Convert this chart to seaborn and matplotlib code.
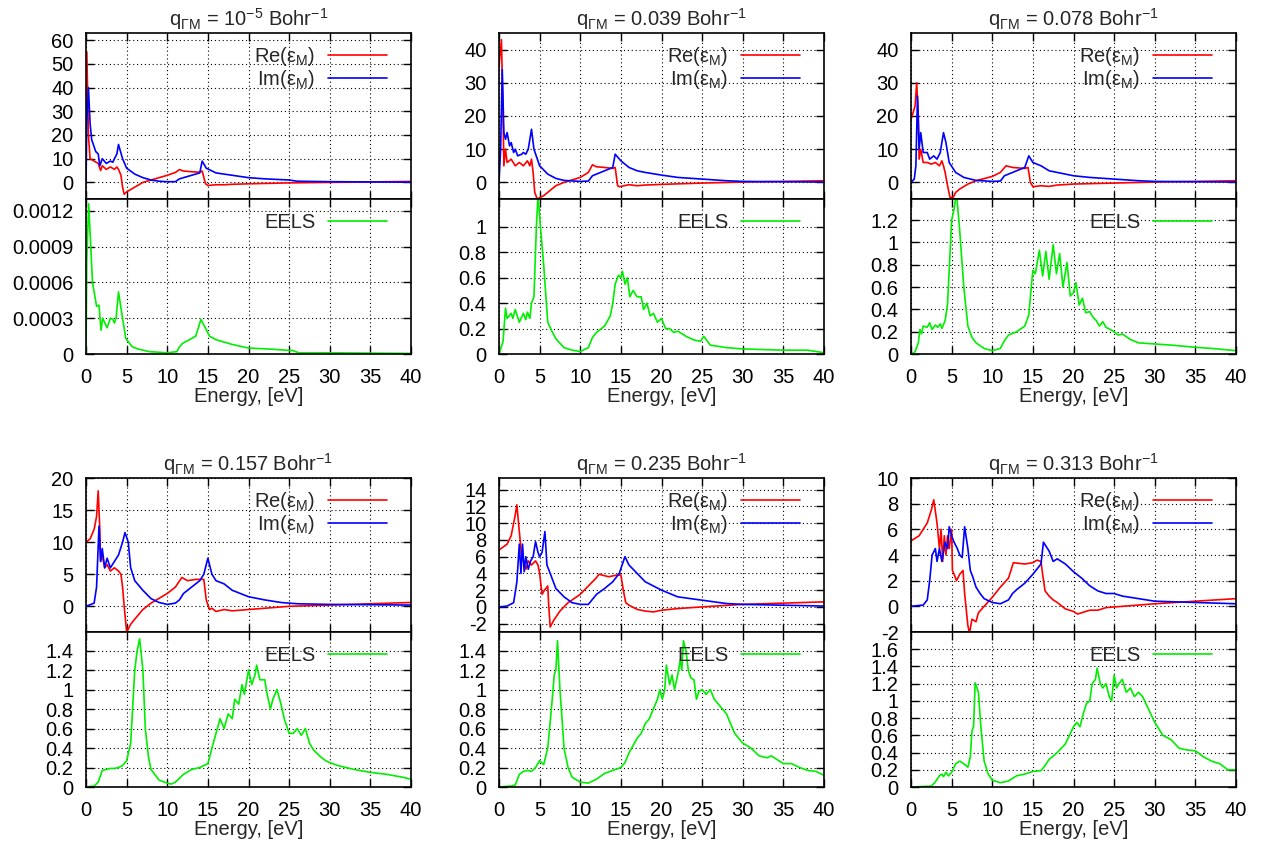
import matplotlib
matplotlib.use("Agg")
import matplotlib.pyplot as plt
import seaborn as sns
from matplotlib.ticker import FuncFormatter, FixedLocator

sns.set_style("ticks")
plt.rcParams['font.family'] = ['Liberation Sans', 'DejaVu Sans']
plt.rcParams['mathtext.fontset'] = 'custom'
plt.rcParams['mathtext.rm'] = 'Liberation Sans'
plt.rcParams['mathtext.it'] = 'Liberation Sans'

# ---------------- data ----------------
titles = ["q$_\\mathregular{ΓM}$ = 10$^\\mathregular{-5}$ Bohr$^\\mathregular{-1}$",
          "q$_\\mathregular{ΓM}$ = 0.039 Bohr$^\\mathregular{-1}$",
          "q$_\\mathregular{ΓM}$ = 0.078 Bohr$^\\mathregular{-1}$",
          "q$_\\mathregular{ΓM}$ = 0.157 Bohr$^\\mathregular{-1}$",
          "q$_\\mathregular{ΓM}$ = 0.235 Bohr$^\\mathregular{-1}$",
          "q$_\\mathregular{ΓM}$ = 0.313 Bohr$^\\mathregular{-1}$"]

# q = 1e-5
p1_re_E = [0.02, 0.1, 0.3, 0.5, 1.0, 1.5, 1.8, 2.0, 2.5, 3.0, 3.5, 3.8, 4.0, 4.3, 4.5, 4.7, 5.0, 6.0, 7.0, 8.0, 10.0, 11.0, 11.5, 12.0, 13.0, 14.0, 14.3, 14.7, 15.0, 16.0, 17.0, 18.0, 20.0, 25.0, 30.0, 40.0]
p1_re   = [30, 55, 20, 10, 9, 8, 5, 7, 5.5, 6.5, 5.5, 6.5, 5.5, 3, -2, -5, -4, -2, 0, 1, 3, 4.2, 5.4, 4.8, 4.5, 4.3, 4.8, -0.5, -1.3, -1, -1, -0.8, -0.6, -0.2, 0, 0.4]
p1_im_E = [0.0, 0.1, 0.3, 0.5, 0.7, 1.0, 1.2, 1.5, 1.7, 2.0, 2.5, 3.0, 3.3, 3.5, 3.8, 4.0, 4.5, 5.0, 6.0, 7.0, 8.0, 9.0, 10.0, 11.0, 11.5, 12.5, 14.0, 14.3, 14.8, 16.0, 18.0, 20.0, 22.0, 25.0, 26.0, 30.0, 40.0]
p1_im   = [0, 25, 40, 25, 18, 15, 13, 12, 7, 10, 8, 9, 8.5, 10, 12, 16, 10, 6, 3.5, 2, 1, 0.5, 0.3, 0.3, 1.5, 2.5, 4, 9, 6, 4, 3, 2, 1.5, 1, 0.5, 0.3, 0.1]
p1_el_E = [0.0, 0.1, 0.33, 0.8, 1.3, 1.6, 1.85, 2.05, 2.6, 3.0, 3.3, 3.5, 3.7, 4.0, 4.5, 4.9, 5.7, 6.5, 7.8, 10.0, 11.2, 11.5, 11.9, 13.0, 13.5, 14.15, 15.2, 16.0, 18.0, 20.0, 23.0, 25.0, 25.4, 26.2, 30.0, 40.0]
p1_el   = [0, 0.0008, 0.00126, 0.0006, 0.0004, 0.00041, 0.0002, 0.0003, 0.00022, 0.0003, 0.00029, 0.00026, 0.0003, 0.00052, 0.0003, 0.00013, 0.00006, 0.00004, 0.00002, 0.00001, 0.00002, 0.00006, 0.00009, 0.00013, 0.00015, 0.00029, 0.00015, 0.00012, 0.00008, 0.00005, 0.00004, 0.00003, 0.00003, 0.00001, 0.00001, 0.000005]

# q = 0.039
p2_re_E = [0.0, 0.3, 0.5, 0.6, 0.8, 1.0, 1.5, 2.0, 2.5, 3.0, 3.5, 3.8, 4.0, 4.2, 4.4, 4.7, 5.5, 6.0, 7.0, 8.0, 10.0, 11.0, 11.5, 12.0, 13.0, 14.0, 14.3, 14.6, 14.8, 16.0, 17.0, 18.0, 20.0, 25.0, 30.0, 40.0]
p2_re   = [35, 43, 20, 5, 10, 6, 7, 5, 6, 5, 6.5, 5, 7, 3, -3, -5, -4, -3, -1, 0, 1.5, 3, 5.3, 4.7, 4.5, 4.2, 4.5, -1, -1.3, -0.7, -1, -0.8, -0.6, -0.2, 0.1, 0.5]
p2_im_E = [0.0, 0.2, 0.4, 0.6, 0.8, 1.0, 1.3, 1.5, 1.8, 2.0, 2.3, 2.8, 3.0, 3.3, 3.6, 4.0, 4.3, 5.0, 6.0, 7.0, 8.0, 10.0, 11.0, 11.5, 12.5, 14.0, 14.3, 15.0, 16.0, 17.0, 18.0, 20.0, 22.0, 25.0, 28.0, 30.0, 40.0]
p2_im   = [0, 10, 34, 15, 13, 15, 11, 12, 9, 10, 8, 8.5, 9, 8.5, 10, 16, 10, 5, 2.5, 1.2, 0.6, 0.3, 0.4, 2, 3, 4.5, 8.5, 6.5, 4.5, 3.5, 3, 2.2, 1.5, 1, 0.5, 0.3, 0.1]
p2_el_E = [0.0, 0.5, 0.8, 1.0, 1.5, 1.7, 2.0, 2.5, 3.0, 3.3, 3.5, 3.8, 4.0, 4.3, 4.6, 4.8, 5.1, 5.5, 6.0, 6.5, 7.0, 8.0, 9.0, 10.0, 11.0, 11.5, 12.0, 13.0, 13.7, 14.0, 14.3, 14.7, 15.0, 15.2, 15.5, 15.8, 16.1, 16.5, 17.0, 17.5, 17.8, 18.2, 18.6, 19.0, 19.5, 20.0, 20.5, 21.0, 21.5, 22.0, 23.0, 24.0, 24.8, 25.2, 26.0, 28.0, 30.0, 35.0, 38.0, 40.0]
p2_el   = [0, 0.1, 0.36, 0.28, 0.32, 0.28, 0.35, 0.25, 0.32, 0.27, 0.33, 0.28, 0.4, 0.45, 1.0, 1.25, 1.0, 0.7, 0.25, 0.18, 0.12, 0.05, 0.03, 0.02, 0.05, 0.13, 0.17, 0.22, 0.3, 0.4, 0.55, 0.62, 0.6, 0.65, 0.55, 0.6, 0.45, 0.5, 0.45, 0.45, 0.35, 0.4, 0.3, 0.32, 0.25, 0.28, 0.2, 0.2, 0.17, 0.18, 0.14, 0.11, 0.1, 0.14, 0.07, 0.05, 0.04, 0.03, 0.03, 0.01]

# q = 0.078
p3_re_E = [0.0, 0.5, 0.7, 0.9, 1.0, 1.2, 1.5, 2.0, 2.5, 3.0, 3.5, 3.8, 4.0, 4.2, 4.5, 4.8, 5.2, 5.5, 6.0, 7.0, 8.0, 10.0, 11.0, 11.7, 12.5, 14.0, 14.4, 14.7, 15.0, 16.0, 17.0, 18.0, 20.0, 25.0, 30.0, 40.0]
p3_re   = [19, 23, 30, 20, 7, 10, 6, 6, 5.5, 6, 5, 6.5, 5, 3, -1, -4.5, -4.5, -3, -2, -0.5, 0.5, 1.8, 3, 5, 4.5, 4.2, 4.5, 0, -1.3, -1, -1.2, -0.8, -0.5, -0.2, 0.1, 0.5]
p3_im_E = [0.0, 0.4, 0.6, 0.8, 1.0, 1.2, 1.5, 2.0, 2.3, 2.8, 3.2, 3.6, 4.0, 4.3, 4.7, 5.5, 6.5, 8.0, 10.0, 11.0, 11.5, 12.5, 14.0, 14.5, 15.0, 16.0, 17.0, 18.0, 20.0, 22.0, 25.0, 28.0, 30.0, 40.0]
p3_im   = [0, 1, 5, 26, 10, 15, 9, 9, 7, 8, 7, 9, 15, 12, 6, 3, 1.5, 0.6, 0.3, 0.4, 2, 3, 4.5, 8, 6, 5, 3.5, 3, 2, 1.5, 1, 0.5, 0.3, 0.1]
p3_el_E = [0.0, 0.5, 0.9, 1.1, 1.3, 1.5, 2.0, 2.3, 2.6, 3.0, 3.3, 3.6, 3.8, 4.2, 4.5, 5.0, 5.3, 5.6, 6.0, 6.5, 7.0, 7.5, 8.0, 9.0, 10.0, 11.0, 11.5, 12.0, 13.0, 14.0, 14.5, 14.8, 15.0, 15.3, 15.8, 16.2, 16.6, 17.0, 17.5, 17.9, 18.3, 18.7, 19.2, 19.6, 20.0, 20.3, 20.7, 21.1, 21.5, 22.0, 22.4, 22.8, 23.2, 23.6, 24.0, 24.5, 25.0, 25.5, 26.0, 27.0, 28.0, 30.0, 32.0, 35.0, 37.0, 40.0]
p3_el   = [0, 0.02, 0.1, 0.22, 0.18, 0.25, 0.24, 0.28, 0.22, 0.26, 0.24, 0.27, 0.23, 0.3, 0.45, 1.2, 1.3, 1.45, 1.1, 0.6, 0.25, 0.15, 0.1, 0.05, 0.03, 0.05, 0.12, 0.17, 0.2, 0.25, 0.35, 0.6, 0.75, 0.72, 0.93, 0.7, 0.92, 0.67, 0.98, 0.72, 0.9, 0.6, 0.82, 0.52, 0.55, 0.64, 0.44, 0.5, 0.37, 0.38, 0.33, 0.3, 0.25, 0.29, 0.24, 0.22, 0.2, 0.17, 0.18, 0.13, 0.1, 0.09, 0.08, 0.06, 0.05, 0.03]

# q = 0.157
p4_re_E = [0.0, 0.5, 1.0, 1.3, 1.5, 1.7, 1.8, 2.0, 2.3, 2.6, 3.0, 3.5, 4.0, 4.3, 4.5, 4.7, 5.0, 5.5, 6.0, 7.0, 8.0, 10.0, 11.0, 11.8, 12.5, 13.5, 14.5, 14.8, 15.2, 15.5, 16.0, 17.0, 18.0, 20.0, 22.0, 25.0, 30.0, 40.0]
p4_re   = [10, 10.5, 12, 14, 18, 12, 7, 8, 6, 6.5, 5.5, 6, 5.5, 5, 3, 0, -4, -2.8, -2, -0.5, 0.5, 2, 3, 4.5, 4, 4.2, 4.2, 1, -0.5, -0.3, -0.8, -0.5, -0.7, -0.5, -0.3, 0, 0.2, 0.6]
p4_im_E = [0.0, 1.0, 1.3, 1.6, 1.8, 2.0, 2.3, 2.6, 3.0, 3.5, 4.0, 4.5, 4.8, 5.2, 5.5, 6.0, 7.0, 8.0, 9.0, 10.0, 11.0, 11.5, 12.0, 13.0, 14.0, 14.5, 15.0, 15.5, 16.0, 17.0, 18.0, 20.0, 22.0, 24.0, 26.0, 30.0, 40.0]
p4_im   = [0, 0.5, 3, 12.5, 7, 9, 6, 7.5, 6, 7, 8, 10, 11.5, 10, 6, 4, 2.5, 1.2, 0.6, 0.3, 0.5, 1, 2, 3, 4, 5, 7.5, 5, 4, 3.5, 2.5, 1.5, 1, 0.6, 0.4, 0.3, 0.2]
p4_el_E = [0.0, 1.0, 1.5, 2.0, 2.5, 3.0, 3.5, 4.0, 4.5, 5.0, 5.5, 6.0, 6.3, 6.6, 7.0, 7.3, 7.7, 8.0, 9.0, 10.0, 10.5, 11.0, 12.0, 13.0, 14.0, 15.0, 15.5, 16.0, 16.5, 17.0, 17.5, 18.0, 18.3, 18.8, 19.2, 19.5, 20.0, 20.4, 20.8, 21.0, 21.4, 22.0, 22.3, 22.7, 23.0, 23.5, 24.0, 24.4, 25.0, 25.5, 26.0, 26.5, 27.0, 27.5, 28.0, 29.0, 29.5, 30.0, 31.0, 33.0, 35.0, 37.0, 39.0, 40.0]
p4_el   = [0, 0.01, 0.05, 0.17, 0.18, 0.19, 0.19, 0.2, 0.22, 0.27, 0.45, 1.2, 1.4, 1.52, 1.2, 0.6, 0.3, 0.18, 0.07, 0.04, 0.03, 0.05, 0.13, 0.18, 0.2, 0.24, 0.4, 0.55, 0.7, 0.6, 0.75, 0.7, 0.9, 0.85, 1.05, 0.95, 1.2, 1.05, 1.15, 1.25, 1.1, 1.1, 0.95, 0.8, 0.9, 1.0, 0.85, 0.7, 0.55, 0.55, 0.6, 0.53, 0.6, 0.45, 0.38, 0.3, 0.27, 0.25, 0.22, 0.18, 0.15, 0.13, 0.1, 0.08]

# q = 0.235
p5_re_E = [0.0, 1.0, 1.5, 2.0, 2.2, 2.5, 2.8, 3.0, 3.3, 3.6, 4.0, 4.5, 4.8, 5.0, 5.3, 5.6, 6.0, 6.1, 6.3, 6.8, 7.5, 8.5, 10.0, 11.0, 12.0, 12.3, 13.5, 14.5, 15.0, 15.3, 15.6, 16.0, 17.0, 18.0, 19.0, 20.0, 22.0, 25.0, 30.0, 40.0]
p5_re   = [6.8, 7.5, 8.5, 11, 12.2, 9, 6, 5.5, 4.5, 5.5, 5, 5.5, 5, 4, 1.5, 2, 2.5, 0.5, -2.4, -1.5, -0.5, 0.5, 1.5, 2.5, 3.5, 3.9, 3.6, 3.8, 3.8, 2, 0.5, 0.2, -0.3, -0.5, -0.6, -0.4, -0.2, 0, 0.3, 0.6]
p5_im_E = [0.0, 1.0, 1.8, 2.2, 2.5, 2.7, 2.9, 3.1, 3.3, 3.6, 3.9, 4.2, 4.5, 4.8, 5.0, 5.3, 5.65, 5.9, 6.3, 7.0, 8.0, 9.0, 10.0, 11.0, 12.0, 13.0, 14.0, 14.8, 15.5, 16.0, 17.0, 18.0, 19.0, 20.0, 22.0, 25.0, 28.0, 30.0, 40.0]
p5_im   = [0, 0.1, 0.5, 3, 7.5, 4, 7.5, 4.2, 6, 4.5, 5.5, 6, 7.8, 6.5, 6, 6.5, 9, 5, 4, 2.2, 1.2, 0.5, 0.3, 0.3, 1.5, 2.2, 3, 4, 6, 5, 4, 3, 2.5, 2, 1.2, 0.8, 0.4, 0.3, 0.1]
p5_el_E = [0.0, 1.5, 2.0, 2.5, 3.0, 3.5, 4.0, 4.5, 5.0, 5.5, 6.0, 6.5, 6.8, 7.0, 7.2, 7.5, 7.8, 8.0, 8.5, 9.0, 10.0, 11.0, 12.0, 13.0, 14.0, 15.0, 15.5, 16.0, 17.0, 17.5, 18.0, 18.5, 19.0, 19.5, 19.8, 20.1, 20.4, 20.6, 21.0, 21.3, 21.6, 22.0, 22.3, 22.5, 22.7, 23.0, 23.3, 23.6, 24.0, 24.3, 24.6, 25.0, 25.5, 26.0, 26.5, 27.0, 28.0, 29.0, 30.0, 31.0, 32.0, 33.0, 33.5, 35.0, 36.0, 37.0, 38.0, 39.0, 40.0]
p5_el   = [0, 0.01, 0.02, 0.13, 0.16, 0.17, 0.16, 0.2, 0.27, 0.23, 0.4, 0.85, 1.15, 1.2, 1.5, 1.0, 0.65, 0.4, 0.2, 0.1, 0.05, 0.04, 0.08, 0.14, 0.17, 0.2, 0.25, 0.35, 0.5, 0.55, 0.65, 0.7, 0.8, 0.9, 1.0, 0.9, 1.0, 1.25, 1.05, 1.15, 1.0, 1.15, 1.3, 1.2, 1.5, 1.4, 1.2, 1.12, 1.1, 0.9, 0.98, 1.0, 0.95, 1.0, 0.9, 0.85, 0.75, 0.55, 0.45, 0.4, 0.32, 0.3, 0.32, 0.24, 0.24, 0.2, 0.17, 0.16, 0.12]

# q = 0.313
p6_re_E = [0.0, 1.0, 2.0, 2.5, 2.8, 3.2, 3.5, 3.7, 3.9, 4.1, 4.3, 4.5, 4.7, 5.0, 5.1, 5.3, 5.6, 6.0, 6.4, 6.6, 7.0, 7.2, 7.5, 8.0, 8.3, 9.0, 10.0, 11.0, 12.0, 12.6, 14.0, 15.0, 15.5, 16.0, 16.2, 16.5, 17.0, 17.5, 18.0, 19.0, 20.0, 20.5, 21.0, 22.0, 23.0, 24.0, 26.0, 30.0, 40.0]
p6_re   = [5.1, 5.5, 6.5, 7.5, 8.3, 6.5, 4.5, 6, 3.5, 5.5, 4, 5.5, 4.5, 6, 2.8, 2.5, 2.0, 2.5, 2.8, 1, -1.5, -2.1, -1, -1.2, -0.5, 0, 0.7, 1.5, 2.2, 3.4, 3.3, 3.4, 3.6, 3.5, 2.5, 1.2, 0.8, 0.5, 0.3, -0.2, -0.4, -0.6, -0.5, -0.3, -0.3, -0.1, 0, 0.2, 0.6]
p6_im_E = [0.0, 1.5, 2.0, 2.3, 2.6, 3.0, 3.2, 3.5, 3.8, 4.2, 4.5, 4.7, 5.0, 5.3, 5.7, 6.0, 6.3, 6.6, 7.0, 7.3, 7.6, 8.0, 8.5, 9.0, 10.0, 11.0, 12.0, 12.5, 13.0, 14.0, 15.0, 16.0, 16.3, 17.0, 17.5, 18.0, 19.0, 20.0, 21.0, 22.0, 23.0, 24.0, 25.0, 26.0, 28.0, 30.0, 35.0, 40.0]
p6_im   = [0, 0.1, 0.5, 2, 4, 4.5, 3.5, 4.5, 3.5, 5, 4.5, 6.2, 5.5, 5, 4.5, 4, 3.8, 6.2, 4.5, 2.8, 2.3, 1.5, 1.0, 0.6, 0.3, 0.2, 0.5, 1, 1.3, 1.8, 2.5, 3.3, 5, 4.3, 3.5, 3.7, 3.3, 2.7, 2.2, 1.6, 1.2, 1.0, 1.0, 0.8, 0.6, 0.4, 0.3, 0.2]
p6_el_E = [0.0, 2.5, 3.0, 3.5, 3.8, 4.0, 4.3, 4.6, 5.0, 5.5, 6.0, 6.5, 7.0, 7.3, 7.5, 7.7, 7.9, 8.3, 8.6, 9.0, 9.5, 10.0, 11.0, 12.0, 13.0, 14.0, 15.0, 16.0, 16.5, 17.0, 18.0, 18.5, 19.0, 19.5, 20.0, 20.4, 20.8, 21.2, 21.6, 22.0, 22.3, 22.7, 22.9, 23.3, 23.6, 24.0, 24.4, 24.7, 25.0, 25.3, 25.6, 26.0, 26.5, 27.0, 27.5, 28.0, 28.5, 29.0, 30.0, 31.0, 32.0, 33.0, 34.0, 35.0, 36.0, 37.0, 38.0, 39.0, 40.0]
p6_el   = [0, 0.01, 0.06, 0.13, 0.15, 0.12, 0.17, 0.13, 0.17, 0.27, 0.3, 0.27, 0.23, 0.35, 0.65, 0.7, 1.21, 1.1, 0.7, 0.3, 0.15, 0.08, 0.05, 0.07, 0.13, 0.15, 0.18, 0.19, 0.25, 0.32, 0.4, 0.45, 0.5, 0.6, 0.7, 0.75, 0.7, 0.85, 0.97, 1.0, 1.2, 1.25, 1.38, 1.2, 1.15, 1.2, 1.05, 1.0, 1.3, 1.15, 1.2, 1.25, 1.1, 1.15, 1.05, 1.1, 1.05, 0.95, 0.75, 0.6, 0.55, 0.45, 0.43, 0.42, 0.35, 0.3, 0.27, 0.2, 0.2]

x_ticks = [0, 5, 10, 15, 20, 25, 30, 35, 40]
top_yticks = [[0, 10, 20, 30, 40, 50, 60], [0, 10, 20, 30, 40], [0, 10, 20, 30, 40],
              [0, 5, 10, 15, 20], [-2, 0, 2, 4, 6, 8, 10, 12, 14], [-2, 0, 2, 4, 6, 8, 10]]
top_ylims = [(-7, 63), (-5, 45), (-5, 45), (-4, 20), (-3.0, 15.4), (-2, 10)]
bot_yticks = [[0, 0.0003, 0.0006, 0.0009, 0.0012], [0, 0.2, 0.4, 0.6, 0.8, 1.0],
              [0, 0.2, 0.4, 0.6, 0.8, 1.0, 1.2], [0, 0.2, 0.4, 0.6, 0.8, 1.0, 1.2, 1.4],
              [0, 0.2, 0.4, 0.6, 0.8, 1.0, 1.2, 1.4], [0, 0.2, 0.4, 0.6, 0.8, 1.0, 1.2, 1.4, 1.6]]
bot_ylims = [(0, 0.0013), (0, 1.22), (0, 1.39), (0, 1.59), (0, 1.59), (0, 1.8)]

panels = [
    (p1_re_E, p1_re, p1_im_E, p1_im, p1_el_E, p1_el),
    (p2_re_E, p2_re, p2_im_E, p2_im, p2_el_E, p2_el),
    (p3_re_E, p3_re, p3_im_E, p3_im, p3_el_E, p3_el),
    (p4_re_E, p4_re, p4_im_E, p4_im, p4_el_E, p4_el),
    (p5_re_E, p5_re, p5_im_E, p5_im, p5_el_E, p5_el),
    (p6_re_E, p6_re, p6_im_E, p6_im, p6_el_E, p6_el),
]

# ---------------- layout ----------------
W, H = 1265, 847
fig = plt.figure(figsize=(W / 100, H / 100), dpi=100)

col_left = [86, 499, 911]
ax_w = 325
rows = [(33, 199, 354), (478, 632, 787)]

fmt = FuncFormatter(lambda v, p: "%g" % v)
FS = 14.5

def style(ax):
    ax.set_xlim(0, 40)
    ax.xaxis.set_major_locator(FixedLocator(x_ticks))
    ax.tick_params(direction='in', top=True, right=True, length=6, width=1,
                   labelsize=FS, colors='black')
    ax.tick_params(axis='y', pad=9)
    ax.tick_params(axis='x', pad=10)
    ax.grid(True, color='black', linestyle=(0, (1, 2.5)), linewidth=0.8)
    for s in ax.spines.values():
        s.set_linewidth(1.2)
        s.set_color('black')
    ax.yaxis.set_major_formatter(fmt)
    ax.xaxis.set_major_formatter(fmt)
    ax.set_xlabel("")
    ax.set_ylabel("")

for i, (reE, re, imE, im, elE, el) in enumerate(panels):
    r, c = divmod(i, 3)
    top, mid, bot = rows[r]
    left = col_left[c]
    ax1 = fig.add_axes([left / W, 1 - mid / H, ax_w / W, (mid - top) / H])
    ax2 = fig.add_axes([left / W, 1 - bot / H, ax_w / W, (bot - mid) / H])

    sns.lineplot(x=reE, y=re, ax=ax1, color='#ff0000', linewidth=1.2,
                 estimator=None, sort=False, label='Re(ε$_\\mathregular{M}$)')
    sns.lineplot(x=imE, y=im, ax=ax1, color='#0000ff', linewidth=1.2,
                 estimator=None, sort=False, label='Im(ε$_\\mathregular{M}$)')
    sns.lineplot(x=elE, y=el, ax=ax2, color='#00ee00', linewidth=1.2,
                 estimator=None, sort=False, label='EELS')

    style(ax1)
    style(ax2)
    ax1.set_ylim(*top_ylims[i])
    ax1.yaxis.set_major_locator(FixedLocator(top_yticks[i]))
    ax1.tick_params(labelbottom=False)
    ax2.set_ylim(*bot_ylims[i])
    ax2.yaxis.set_major_locator(FixedLocator(bot_yticks[i]))
    ax2.set_xlabel("Energy, [eV]", fontsize=FS, labelpad=0)

    ax1.set_title(titles[i], fontsize=FS, pad=5)

    for ax, h, off in ((ax1, mid - top, 12), (ax2, bot - mid, 14)):
        leg = ax.legend(loc='upper right', bbox_to_anchor=(0.925, 1 - off / h),
                        frameon=False, markerfirst=False, fontsize=FS,
                        handlelength=2.9, handletextpad=0.65, labelspacing=0.0,
                        borderpad=0, borderaxespad=0)
        for t in leg.get_texts():
            t.set_ha('right')

fig.savefig("out.png", dpi=100, facecolor='white')
